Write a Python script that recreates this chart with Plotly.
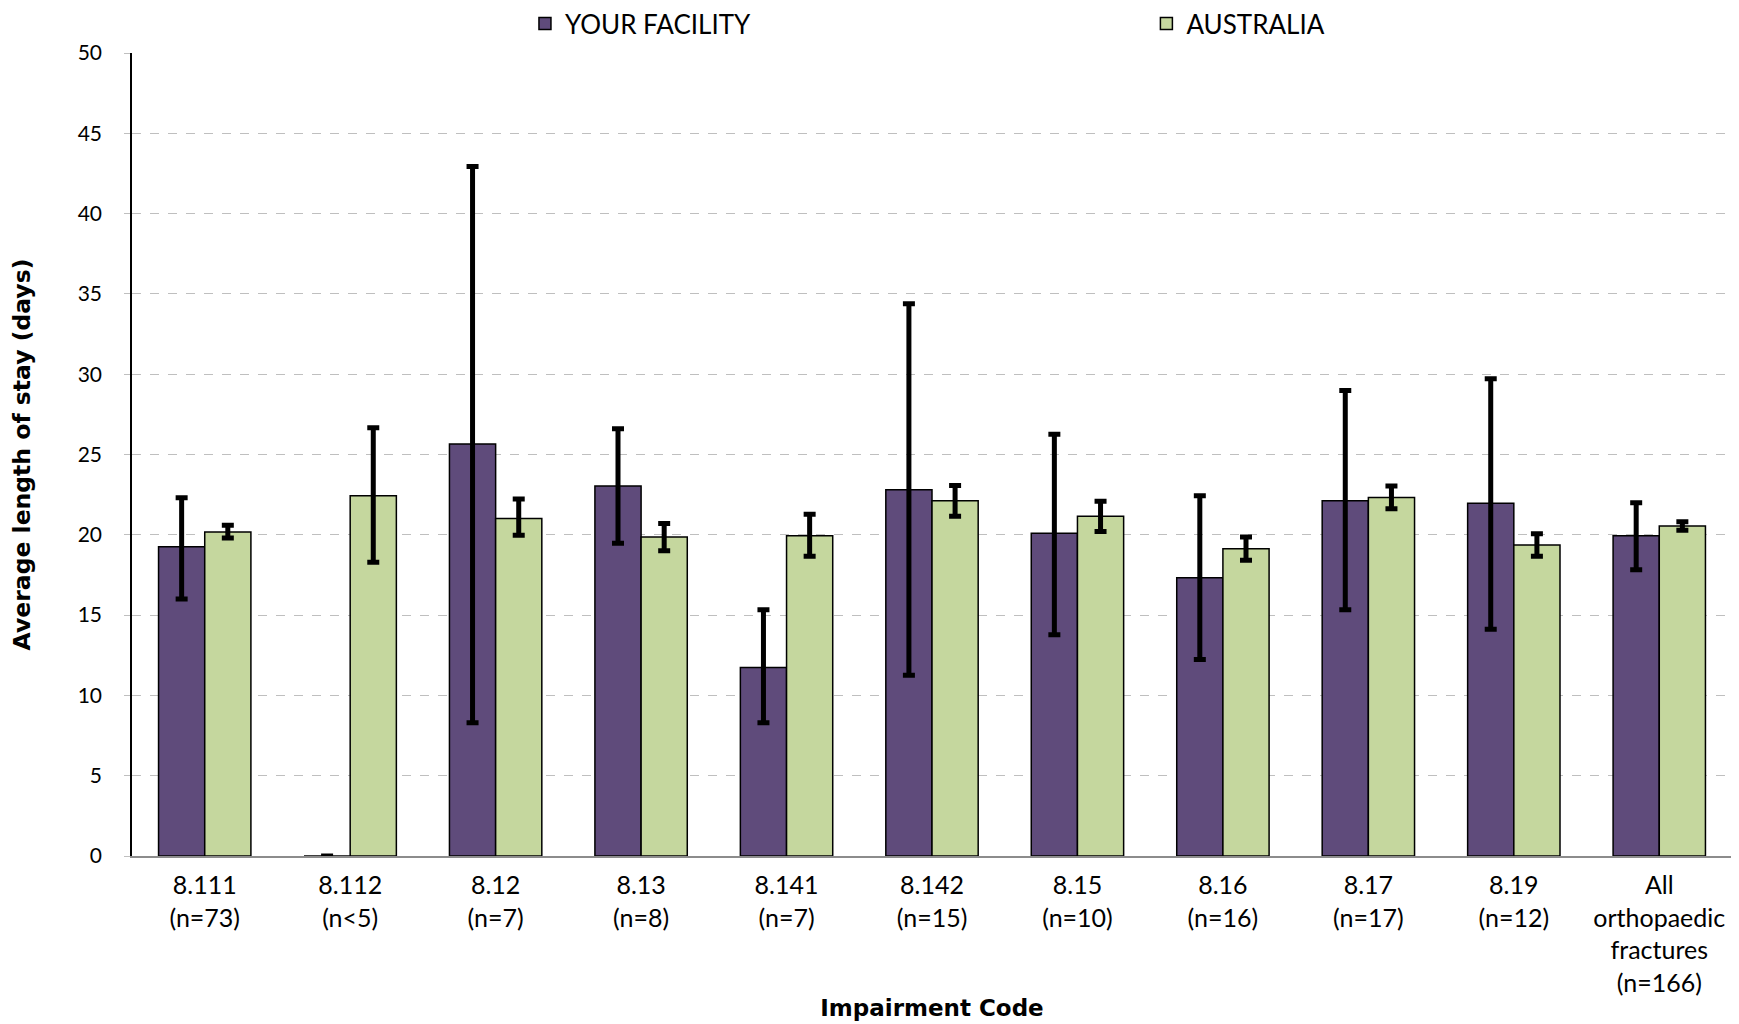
import plotly.graph_objects as go

categories = ["8.111<br>(n=73)", "8.112<br>(n<5)", "8.12<br>(n=7)", "8.13<br>(n=8)", "8.141<br>(n=7)",
              "8.142<br>(n=15)", "8.15<br>(n=10)", "8.16<br>(n=16)", "8.17<br>(n=17)", "8.19<br>(n=12)",
              "All<br>orthopaedic<br>fractures<br>(n=166)"]

facility = [19.25, 0.0, 25.65, 23.04, 11.74, 22.81, 20.09, 17.33, 22.12, 21.97, 19.94]
facility_upper = [22.3, 0.0, 42.93, 26.6, 15.33, 34.38, 26.26, 22.43, 28.99, 29.71, 22.0]
facility_lower = [16.0, 0.0, 8.29, 19.48, 8.29, 11.25, 13.77, 12.23, 15.33, 14.12, 17.83]

australia = [20.17, 22.43, 21.01, 19.86, 19.94, 22.12, 21.16, 19.13, 22.32, 19.36, 20.55]
australia_upper = [20.6, 26.67, 22.23, 20.7, 21.28, 23.07, 22.09, 19.86, 23.04, 20.06, 20.81]
australia_lower = [19.8, 18.29, 19.97, 19.01, 18.67, 21.16, 20.2, 18.41, 21.62, 18.67, 20.29]

y_ticks = [0, 5, 10, 15, 20, 25, 30, 35, 40, 45, 50]

FONT = "Lato"
TITLE_FONT = "DejaVu Sans"


def err(vals, up, lo):
    return dict(type="data", symmetric=False,
                array=[u - v for u, v in zip(up, vals)],
                arrayminus=[v - l for v, l in zip(vals, lo)],
                color="black", thickness=5, width=6)


fig = go.Figure()
fig.add_trace(go.Bar(
    x=categories, y=facility, name="YOUR FACILITY", legend="legend", showlegend=True,
    marker=dict(color="#5F4B7B", line=dict(color="black", width=1.5)),
    error_y=err(facility, facility_upper, facility_lower),
))
fig.add_trace(go.Bar(
    x=categories, y=australia, name="AUSTRALIA", legend="legend2", showlegend=True,
    marker=dict(color="#C5D79E", line=dict(color="black", width=1.5)),
    error_y=err(australia, australia_upper, australia_lower),
))

legend_common = dict(orientation="h", y=1.0367, xanchor="left", yanchor="middle",
                     font=dict(family=FONT, size=26, color="black"),
                     bgcolor="rgba(0,0,0,0)", itemclick=False, itemdoubleclick=False,
                     visible=True)

# page body has an 8px default margin, so the figure is sized/offset to compensate
fig.update_layout(
    width=1731, height=1016,
    showlegend=True,
    margin=dict(l=124, r=7, t=45, b=168, autoexpand=False),
    paper_bgcolor="white", plot_bgcolor="white",
    barmode="group", bargap=0.365, bargroupgap=0,
    font=dict(family=FONT, color="black", size=20),
    legend=dict(x=0.2456, **legend_common),
    legend2=dict(x=0.634, **legend_common),
    xaxis=dict(
        automargin=False,
        showline=True, linecolor="#8C8C8C", linewidth=2,
        ticks="", tickfont=dict(family=FONT, size=25, color="black"),
        ticklabelstandoff=6,
        title=dict(text="<b>Impairment Code</b>", font=dict(family=TITLE_FONT, size=23, color="black"),
                   standoff=4),
    ),
    yaxis=dict(
        automargin=False,
        range=[0, 50], tickvals=y_ticks,
        showgrid=True, gridcolor="#BFBFBF", griddash="dash", gridwidth=1.3,
        zeroline=False,
        showline=True, linecolor="black", linewidth=1.5,
        ticks="outside", ticklen=6, tickcolor="#BFBFBF",
        ticklabelstandoff=18,
        tickfont=dict(family=FONT, size=21, color="black"),
        title=dict(text="<b>Average length of stay (days)</b>",
                   font=dict(family=TITLE_FONT, size=23.5, color="black"), standoff=40),
    ),
)

fig.write_html("out.html")
